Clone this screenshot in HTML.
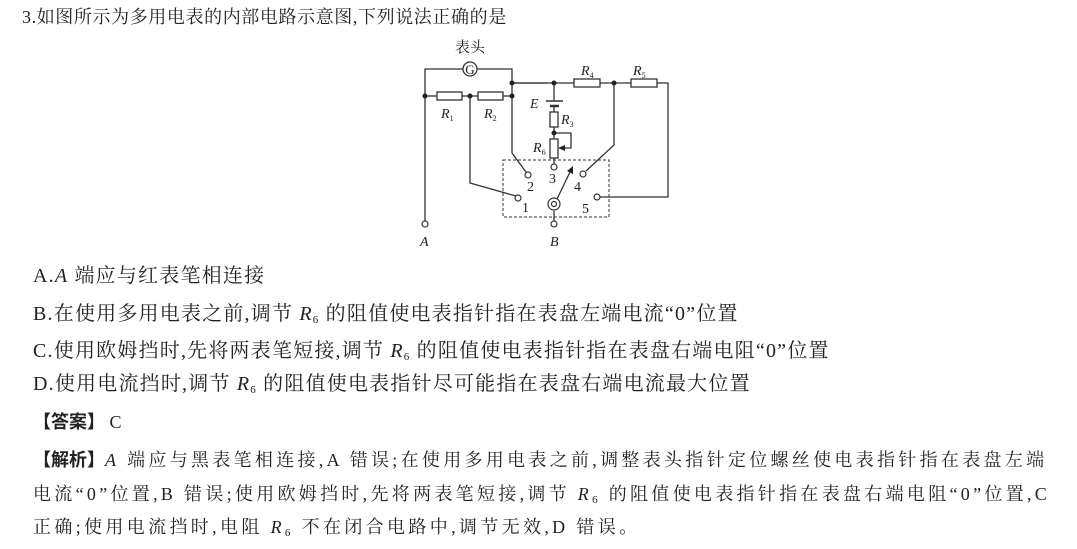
<!DOCTYPE html>
<html><head><meta charset="utf-8"><style>
body{margin:0;width:1077px;height:549px;background:#fff;position:relative;overflow:hidden;font-family:"Liberation Serif","Noto Serif CJK SC",serif;color:#222}
.t{position:absolute;white-space:nowrap;font-size:18px;line-height:22px}
.o{font-size:20px;letter-spacing:1.2px}
i{font-style:italic}
sub{font-size:11px;vertical-align:-3px}
b{font-family:"Noto Sans CJK SC",sans-serif;font-weight:bold}
svg{position:absolute;left:0;top:0}
svg text{font-family:"Liberation Serif","Noto Serif CJK SC",serif}
</style></head><body>
<div class="t" style="left:22px;top:6px;letter-spacing:0.6px">3.如图所示为多用电表的内部电路示意图,下列说法正确的是</div>
<div class="t o" style="left:33px;top:265px">A.<i>A</i> 端应与红表笔相连接</div>
<div class="t o" style="left:33px;top:303px">B.在使用多用电表之前,调节 <i>R</i><sub>6</sub> 的阻值使电表指针指在表盘左端电流“0”位置</div>
<div class="t o" style="left:33px;top:340px">C.使用欧姆挡时,先将两表笔短接,调节 <i>R</i><sub>6</sub> 的阻值使电表指针指在表盘右端电阻“0”位置</div>
<div class="t o" style="left:33px;top:373px">D.使用电流挡时,调节 <i>R</i><sub>6</sub> 的阻值使电表指针尽可能指在表盘右端电流最大位置</div>
<div class="t" style="left:33px;top:410px"><b>【答案】</b> C</div>
<div class="t" style="left:33px;top:448px;letter-spacing:3.3px"><b style="letter-spacing:0">【解析】</b><i>A</i> 端应与黑表笔相连接,A 错误;在使用多用电表之前,调整表头指针定位螺丝使电表指针指在表盘左端</div>
<div class="t" style="left:33px;top:483px;letter-spacing:3.3px">电流“0”位置,B 错误;使用欧姆挡时,先将两表笔短接,调节 <i>R</i><sub>6</sub> 的阻值使电表指针指在表盘右端电阻“0”位置,C</div>
<div class="t" style="left:33px;top:516px;letter-spacing:3.35px">正确;使用电流挡时,电阻 <i>R</i><sub>6</sub> 不在闭合电路中,调节无效,D 错误。</div>
<svg width="1077" height="549" viewBox="0 0 1077 549">
<g stroke="#333" stroke-width="1.3" fill="none">
<polyline points="425,221 425,69 463,69"/>
<polyline points="477,69 512,69 512,83 547,83"/>
<circle cx="470" cy="69" r="7" fill="#fff"/>
<line x1="512" y1="83" x2="574" y2="83"/>
<rect x="574" y="79" width="26" height="8" fill="#fff"/>
<line x1="600" y1="83" x2="631" y2="83"/>
<rect x="631" y="79" width="26" height="8" fill="#fff"/>
<polyline points="657,83 668,83 668,197 600,197"/>
<line x1="425" y1="96" x2="437" y2="96"/>
<rect x="437" y="92" width="25" height="8" fill="#fff"/>
<line x1="462" y1="96" x2="478" y2="96"/>
<rect x="478" y="92" width="25" height="8" fill="#fff"/>
<line x1="503" y1="96" x2="512" y2="96"/>
<polyline points="470,96 470,183 516,196"/>
<polyline points="512,83 512,153 526,172"/>
<polyline points="614,83 614,145 586,171"/>
<line x1="554" y1="83" x2="554" y2="101"/>
<line x1="546" y1="101" x2="563" y2="101" stroke-width="1.6"/>
<line x1="550" y1="106" x2="559" y2="106" stroke-width="2.5"/>
<line x1="554" y1="106" x2="554" y2="112"/>
<rect x="550" y="112" width="8" height="15" fill="#fff"/>
<line x1="554" y1="127" x2="554" y2="139"/>
<rect x="550" y="139" width="8" height="19" fill="#fff"/>
<line x1="554" y1="158" x2="554" y2="165"/>
<polyline points="554,133 571,133 571,148 562,148"/>
<line x1="554" y1="211" x2="554" y2="221"/>
<line x1="557" y1="199" x2="571" y2="170"/>
<rect x="503" y="160" width="106" height="57" stroke-dasharray="3,2" stroke-width="1"/>
</g>
<g fill="#fff" stroke="#333" stroke-width="1.2">
<circle cx="425" cy="224" r="3"/><circle cx="554" cy="224" r="3"/>
<circle cx="518" cy="198" r="3"/><circle cx="528" cy="175" r="3"/><circle cx="554" cy="167" r="3"/>
<circle cx="583" cy="174" r="3"/><circle cx="597" cy="197" r="3"/>
<circle cx="554" cy="204" r="6"/><circle cx="554" cy="204" r="2.5"/>
</g>
<g fill="#222">
<circle cx="425" cy="96" r="2.5"/><circle cx="470" cy="96" r="2.5"/><circle cx="512" cy="96" r="2.5"/>
<circle cx="512" cy="83" r="2.5"/><circle cx="554" cy="83" r="2.5"/><circle cx="614" cy="83" r="2.5"/>
<circle cx="554" cy="133" r="2.5"/>
<polygon points="558,148 565,145 565,151"/>
<polygon points="573,166 573,174 567,171"/>
</g>
<g font-size="14" fill="#222">
<text x="470" y="74" text-anchor="middle" font-size="13">G</text>
<text x="470" y="52" text-anchor="middle" font-size="15">表头</text>
<text x="581" y="75" font-style="italic">R<tspan font-size="8" dy="3" font-style="normal">4</tspan></text>
<text x="633" y="75" font-style="italic">R<tspan font-size="8" dy="3" font-style="normal">5</tspan></text>
<text x="441" y="118" font-style="italic">R<tspan font-size="8" dy="3" font-style="normal">1</tspan></text>
<text x="484" y="118" font-style="italic">R<tspan font-size="8" dy="3" font-style="normal">2</tspan></text>
<text x="530" y="108" font-style="italic">E</text>
<text x="561" y="124" font-style="italic">R<tspan font-size="8" dy="3" font-style="normal">3</tspan></text>
<text x="533" y="152" font-style="italic">R<tspan font-size="8" dy="3" font-style="normal">6</tspan></text>
<text x="549" y="183">3</text><text x="527" y="191">2</text><text x="574" y="191">4</text>
<text x="522" y="212">1</text><text x="582" y="213">5</text>
<text x="420" y="246" font-style="italic">A</text><text x="550" y="246" font-style="italic">B</text>
</g>
</svg>
</body></html>
